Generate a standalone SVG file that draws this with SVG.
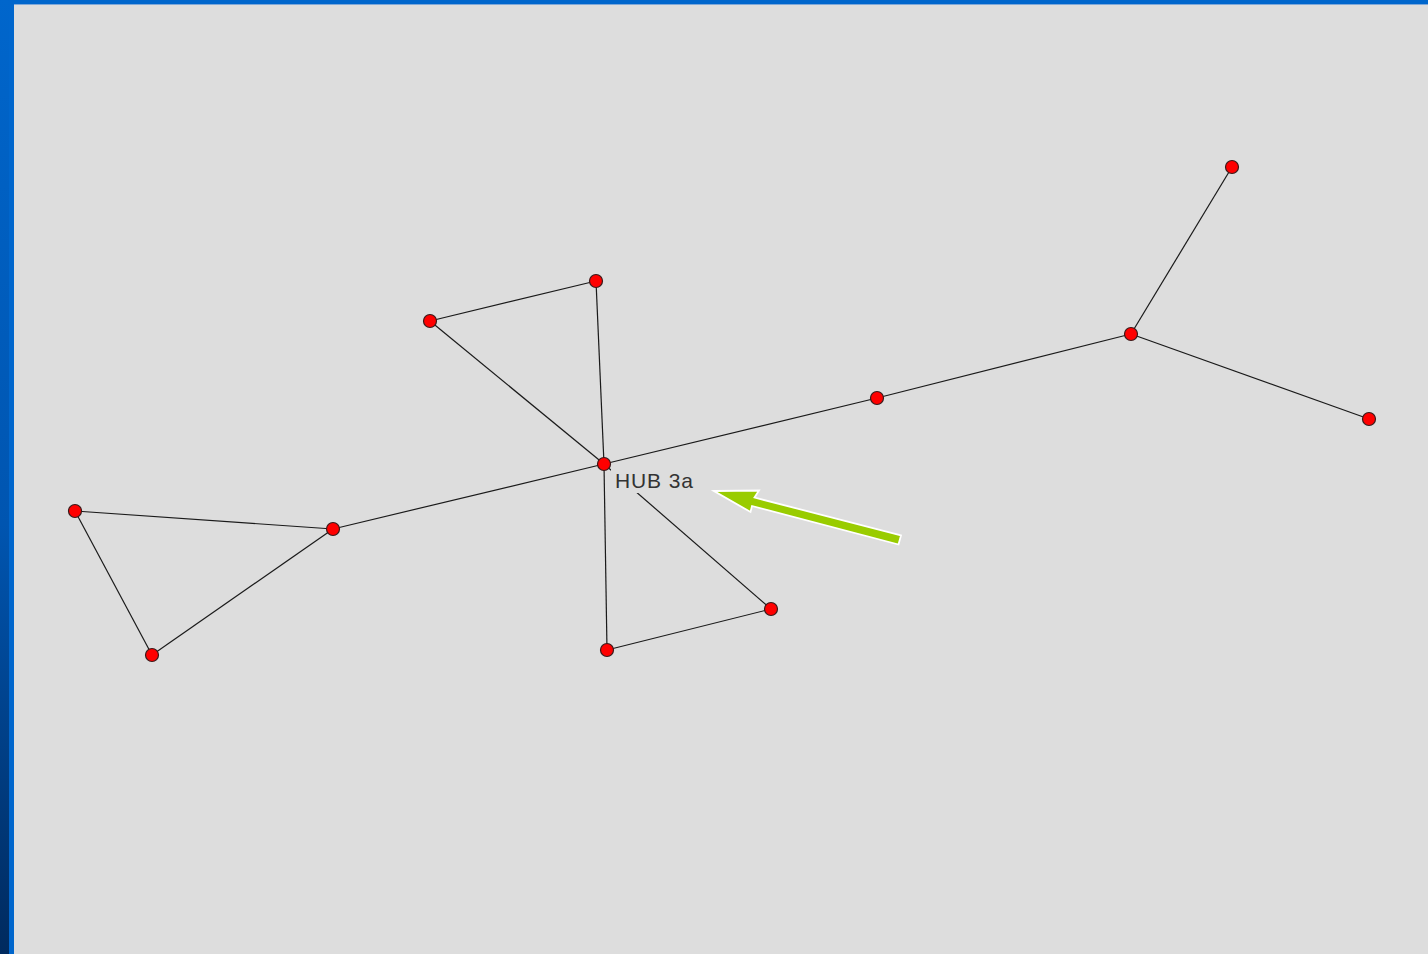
<svg xmlns="http://www.w3.org/2000/svg" width="1428" height="954" viewBox="0 0 1428 954">
  <defs>
    <linearGradient id="sideGrad" x1="0" y1="0" x2="0" y2="1">
      <stop offset="0" stop-color="#0066cc"/>
      <stop offset="0.55" stop-color="#0055b0"/>
      <stop offset="1" stop-color="#002a5e"/>
    </linearGradient>
    <style>
      .edge { stroke: #1a1a1a; stroke-width: 1.2; fill: none; }
      .node { fill: #ff0000; stroke: #3a1a1a; stroke-width: 1.2; }
      .label { font-family: "Liberation Sans", Arial, sans-serif; font-size: 21px; fill: #333333; }
    </style>
  </defs>

  <!-- window frame -->
  <rect x="0" y="0" width="1428" height="954" fill="#0066cc"/>
  <rect x="0" y="0" width="9" height="954" fill="url(#sideGrad)"/>
  <rect x="9" y="0" width="5" height="954" fill="#0066cc"/>
  <rect x="14" y="4" width="1414" height="950" fill="#dddddd"/>
  <rect x="14" y="4" width="1414" height="1" fill="#7fa8d8"/>

  <!-- connectors -->
  <g id="connectors">
    <line class="edge" x1="430" y1="321" x2="596" y2="281"/>
    <line class="edge" x1="596" y1="281" x2="604" y2="464"/>
    <line class="edge" x1="430" y1="321" x2="604" y2="464"/>
    <line class="edge" x1="604" y1="464" x2="877" y2="398"/>
    <line class="edge" x1="877" y1="398" x2="1131" y2="334"/>
    <line class="edge" x1="1131" y1="334" x2="1232" y2="167"/>
    <line class="edge" x1="1131" y1="334" x2="1369" y2="419"/>
    <line class="edge" x1="604" y1="464" x2="333" y2="529"/>
    <line class="edge" x1="333" y1="529" x2="75" y2="511"/>
    <line class="edge" x1="75" y1="511" x2="152" y2="655"/>
    <line class="edge" x1="152" y1="655" x2="333" y2="529"/>
    <line class="edge" x1="604" y1="464" x2="607" y2="650"/>
    <line class="edge" x1="607" y1="650" x2="771" y2="609"/>
    <line class="edge" x1="771" y1="609" x2="604" y2="464"/>
  </g>

  <!-- nodes -->
  <g id="n430_321"><circle class="node" cx="430" cy="321" r="6.5"/></g>
  <g id="n596_281"><circle class="node" cx="596" cy="281" r="6.5"/></g>
  <g id="n877_398"><circle class="node" cx="877" cy="398" r="6.5"/></g>
  <g id="n1131_334"><circle class="node" cx="1131" cy="334" r="6.5"/></g>
  <g id="n1232_167"><circle class="node" cx="1232" cy="167" r="6.5"/></g>
  <g id="n1369_419"><circle class="node" cx="1369" cy="419" r="6.5"/></g>
  <g id="n333_529"><circle class="node" cx="333" cy="529" r="6.5"/></g>
  <g id="n75_511"><circle class="node" cx="75" cy="511" r="6.5"/></g>
  <g id="n152_655"><circle class="node" cx="152" cy="655" r="6.5"/></g>
  <g id="n607_650"><circle class="node" cx="607" cy="650" r="6.5"/></g>
  <g id="n771_609"><circle class="node" cx="771" cy="609" r="6.5"/></g>
  <g id="hub3a">
    <rect x="611" y="468" width="86" height="25" fill="#dddddd"/>
    <circle class="node" cx="604" cy="464" r="6.5"/>
    <text class="label" x="615" y="488" textLength="78" lengthAdjust="spacing">HUB 3a</text>
  </g>

  <!-- pointer arrow -->
  <g id="pointer">
    <polygon points="714,491 759,490.5 754.5,497.5 901,535.5 898.5,544.5 752,506 750.5,512"
             fill="#99cc00" stroke="#ffffff" stroke-width="1.8" stroke-linejoin="miter"/>
  </g>
</svg>
